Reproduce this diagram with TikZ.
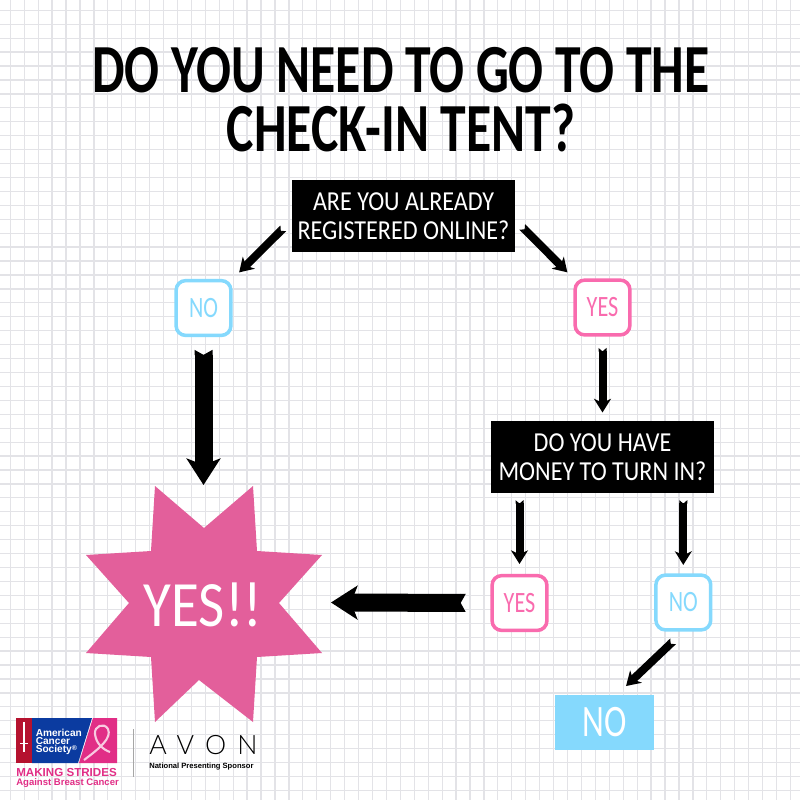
\documentclass[tikz,border=0pt]{standalone}
\usepackage{fontspec}
\usepackage{xcolor}
\setmainfont{Carlito}
\newfontfamily\condfont[FakeStretch=.75]{Carlito}
\newfontfamily\widefont[FakeStretch=.88]{Carlito}
\newfontfamily\logofont{Liberation Sans}
\newfontfamily\avonfont[LetterSpace=42]{Lato Light}
\usetikzlibrary{arrows.meta}
\pgfdeclarearrow{
  name=Swallow,
  parameters={\the\pgfarrowlength,\the\pgfarrowwidth},
  defaults={length=1mm,width=2mm},
  setup code={\pgfarrowssettipend{\pgfarrowlength}\pgfarrowssetbackend{0pt}\pgfarrowssetlineend{.2pt}%
    \pgfarrowssavethe\pgfarrowlength\pgfarrowssavethe\pgfarrowwidth},
  drawing code={\pgfpathmoveto{\pgfpoint{0pt}{.5\pgfarrowwidth}}%
    \pgfpathlineto{\pgfpoint{\pgfarrowlength}{.5\pgfarrowwidth}}%
    \pgfpathlineto{\pgfpoint{.1pt}{0pt}}%
    \pgfpathlineto{\pgfpoint{\pgfarrowlength}{-.5\pgfarrowwidth}}%
    \pgfpathlineto{\pgfpoint{0pt}{-.5\pgfarrowwidth}}%
    \pgfpathclose\pgfusepathqfill}
}
\definecolor{gridGray}{HTML}{E3E3E7}
\definecolor{tentPink}{HTML}{F96BAE}
\definecolor{burstPink}{HTML}{E35F9B}
\definecolor{tentBlue}{HTML}{85D9FD}
\definecolor{acsBlue}{HTML}{0B3BA0}
\definecolor{acsRed}{HTML}{B5122F}
\definecolor{acsPink}{HTML}{E12E86}
\begin{document}
\begin{tikzpicture}[x=.25mm,y=-.25mm,
  question/.style={fill=black,text=white,minimum width=55.75mm,minimum height=17.9mm,
    align=center,inner sep=0pt,font=\widefont\fontsize{19.5}{20.6}\selectfont},
  answer/.style={draw=#1,fill=white,text=#1,line width=2.5pt,rounded corners=2.4mm,
    minimum size=13.7mm,inner sep=0pt,font=\condfont\fontsize{21}{21}\selectfont},
  thinflow/.style={line width=2mm,
    {Swallow[length=.9mm,width=2mm]}-{Stealth[length=3.4mm,width=4.2mm,inset=1mm]}},
  thickflow/.style={line width=4.5mm,
    {Swallow[length=1.3mm,width=4.5mm]}-{Stealth[length=6.6mm,width=8.4mm,inset=1.6mm]}}]
  \useasboundingbox (0,0) rectangle (800,800);
  \fill[white] (0,0) rectangle (800,800);
  \def\G{13.93}    % grid pitch
  \foreach \i in {0,...,56}{
    \draw[gridGray,line width=.9pt] ({10.3+\i*\G},0) -- ({10.3+\i*\G},800);
    \draw[gridGray,line width=.9pt] (0,{10.3+\i*\G}) -- (800,{10.3+\i*\G});
  }
  \node[align=center,inner sep=0pt,font=\condfont\fontsize{49}{41.9}\selectfont\bfseries] (title) at (401,100)
    {DO YOU NEED TO GO TO THE\\CHECK-IN TENT?};
  \node[question] (qOnline) at (403.5,216) {ARE YOU ALREADY\\REGISTERED ONLINE?};
  \node[question] (qMoney) at (602.5,457) {DO YOU HAVE\\MONEY TO TURN IN?};
  \node[answer=tentBlue] (noOne) at (203.5,308) {NO};
  \node[answer=tentPink] (yesOne) at (602.5,307.5) {YES};
  \node[answer=tentPink] (yesTwo) at (519.5,603) {YES};
  \node[answer=tentBlue] (noTwo) at (683.3,602.5) {NO};
  \node[fill=tentBlue,text=white,minimum width=24.75mm,minimum height=13.75mm,inner sep=0pt,
    font=\condfont\fontsize{32}{32}\selectfont] (noEnd) at (604.5,722.5) {NO};
  % the burst
  \fill[burstPink] (155,486) -- (204,528) -- (253,486) -- (257,551) -- (322,555) -- (279,603)
    -- (322,653) -- (257,657) -- (253,722) -- (199,680) -- (155,722) -- (151,657) -- (86,653)
    -- (129,603) -- (86,555) -- (151,551) -- cycle;
  \node[text=white,inner sep=0pt,font=\widefont\fontsize{46}{46}\selectfont] (yesBurst) at (203,605) {YES!!};
  \coordinate (burstTop) at (203.5,485);
  \coordinate (burstEast) at (331,602.5);
  % connectors
  \draw[thinflow,shorten <=8.5pt,shorten >=6.5pt] (qOnline.182) -- (noOne.north east);
  \draw[thinflow,shorten <=7pt,shorten >=6pt] (qOnline.-2) -- (yesOne.north west);
  \draw[thickflow,shorten <=9pt] (noOne.south) -- (burstTop);
  \draw[thinflow,shorten <=8pt,shorten >=6pt] (yesOne.south) -- (qMoney.north);
  \draw[thinflow,shorten <=5pt,shorten >=7pt] (yesTwo.north |- qMoney.south) -- (yesTwo.north);
  \draw[thinflow,shorten <=5pt,shorten >=6pt] (noTwo.north |- qMoney.south) -- (noTwo.north);
  \draw[thickflow,shorten <=17.5pt] (yesTwo.west) -- (burstEast);
  \draw[thinflow,shorten <=10pt,shorten >=9pt] (noTwo.south) -- (noEnd.66);
  % sponsor marks
  \fill[acsRed] (16,718) rectangle (32,763);
  \fill[acsBlue] (32,718) -- (92,718) -- (78,763) -- (32,763) -- cycle;
  \fill[acsPink] (93,718) -- (117,718) -- (117,763) -- (79,763) -- cycle;
  \draw[white,line width=.9pt] (24,722) -- (24,752);
  \draw[white,line width=.7pt] (20,743) -- (28,743);
  \draw[white!75!acsPink,line width=1.5pt] (84,760) .. controls (100,748) and (112,738) .. (108,729)
    .. controls (104,722) and (94,726) .. (95,734) .. controls (96,744) and (104,750) .. (110,752);
  \node[anchor=north west,align=left,text=white,inner sep=0pt,
    font=\logofont\bfseries\fontsize{7.2}{5.8}\selectfont] (acsName) at (35.5,728.5)
    {American\\Cancer\\Society\raisebox{.4ex}{\tiny\textregistered}};
  \node[anchor=west,text=acsPink,inner sep=0pt,font=\logofont\bfseries\fontsize{8.25}{8.25}\selectfont]
    (strides) at (16,772.5) {MAKING STRIDES};
  \node[anchor=west,text=acsPink,inner sep=0pt,font=\logofont\bfseries\fontsize{6.8}{6.8}\selectfont]
    (against) at (16,783.5) {Against Breast Cancer};
  \draw[gray!70,line width=.6pt] (133,729) -- (133,777);
  \node[anchor=west,inner sep=0pt,font=\avonfont\fontsize{19}{19}\selectfont] (avon) at (149,745) {AVON};
  \node[anchor=west,inner sep=0pt,font=\logofont\bfseries\fontsize{5.4}{5.4}\selectfont] (sponsor) at (149,766.5)
    {National Presenting Sponsor};
\end{tikzpicture}
\end{document}
